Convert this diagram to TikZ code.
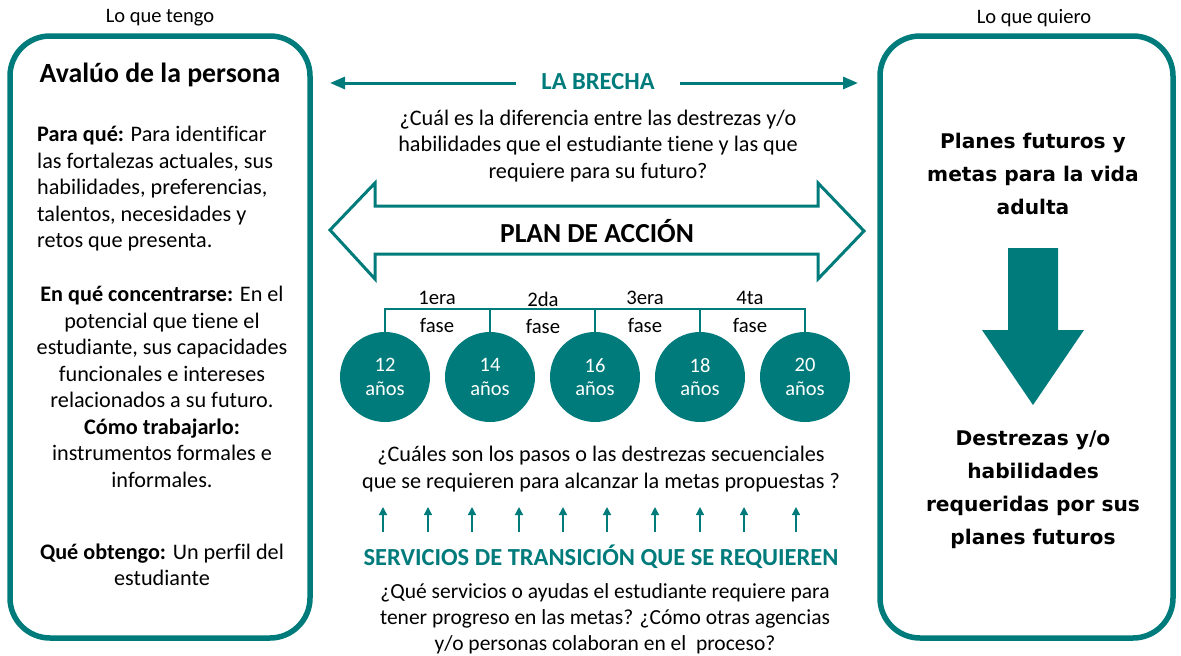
\documentclass[tikz,border=0pt]{standalone}
\usepackage{fontspec}
\setmainfont{Carlito}[Ligatures={NoCommon}]
\newfontfamily\verd{DejaVu Sans}
\usetikzlibrary{arrows.meta}
\definecolor{teal1}{RGB}{0,123,123}
\begin{document}
\begin{tikzpicture}[x=1pt,y=-1pt,
  box/.style={draw=teal1,line width=5.5pt,rounded corners=40pt,inner sep=0pt},
  body/.style={font=\fontsize{22.2}{26.5}\selectfont,align=center,inner sep=0pt},
  small/.style={font=\fontsize{20.5}{24}\selectfont,inner sep=0pt},
  verdtxt/.style={font=\verd\bfseries\fontsize{20.2}{33}\selectfont,align=center,inner sep=0pt},
  tealhead/.style={font=\bfseries\fontsize{24.5}{28}\selectfont,text=teal1},
  brechaarrow/.style={draw=teal1,line width=3pt,-{Triangle[length=15pt,width=12pt]}},
  upar/.style={draw=teal1,line width=1.3pt,-{Triangle[length=8pt,width=8pt]}},
  circ/.style={circle,fill=teal1,minimum size=90pt,inner sep=0pt,text=white,align=center,font=\fontsize{20.5}{23.5}\selectfont},
  bracket/.style={draw=teal1,line width=2pt},
  phase/.style={font=\fontsize{20.7}{24}\selectfont,inner sep=0pt}
]
\useasboundingbox (0,0) rectangle (1181,656);

% headers
\node[small] (tengo) at (160,18) {Lo que tengo};
\node[small] (quiero) at (1034,18) {Lo que quiero};

% left box
\node[box,minimum width=300pt,minimum height=602pt] (lbox) at (160,337) {};
\node[font=\bfseries\fontsize{27.8}{32}\selectfont,inner sep=0pt] (aval) at (160,75) {Avalúo de la persona};
\node[body,align=left,anchor=west] (p1) at (37,189) {\textbf{Para qué:} Para identificar\\las fortalezas actuales, sus\\habilidades, preferencias,\\talentos, necesidades y\\retos que presenta.};
\node[body] (p2) at (162,347) {\textbf{En qué concentrarse:} En el\\potencial que tiene el\\estudiante, sus capacidades\\funcionales e intereses\\relacionados a su futuro.};
\node[body] (p3) at (162,453) {\textbf{Cómo trabajarlo:}\\instrumentos formales e\\informales.};
\node[body] (p4) at (162,565) {\textbf{Qué obtengo:} Un perfil del\\estudiante};

% right box
\node[box,minimum width=293pt,minimum height=602pt] (rbox) at (1026.5,337) {};
\node[verdtxt] (planes) at (1033,174) {Planes futuros y\\metas para la vida\\adulta};
\node[verdtxt] (destr) at (1033,490) {Destrezas y/o\\habilidades\\requeridas por sus\\planes futuros};
\fill[teal1] (1008,248) -- (1058,248) -- (1058,330) -- (1084,330) -- (1033,405) -- (982,330) -- (1008,330) -- cycle;

% la brecha
\node[tealhead,inner xsep=25pt,inner ysep=0pt] (brecha) at (598,82) {LA BRECHA};
\coordinate (bl) at (330,83);
\coordinate (br) at (858,83);
\draw[brechaarrow] (brecha.west |- bl) -- (bl);
\draw[brechaarrow] (brecha.east |- br) -- (br);
\node[body] (q1) at (598,146) {¿Cuál es la diferencia entre las destrezas y/o\\habilidades que el estudiante tiene y las que\\requiere para su futuro?};

% plan de accion double arrow
\draw[draw=teal1,line width=3pt,miter limit=10] (330,230) -- (375,183) -- (375,206) -- (818,206) -- (818,183) -- (864,231) -- (818,279) -- (818,254) -- (375,254) -- (375,279) -- cycle;
\node[font=\bfseries\fontsize{27.5}{30}\selectfont,inner sep=0pt] (plan) at (597,231) {PLAN DE ACCIÓN};

% phases
\node[circ] (c1) at (385,377) {12\\años};
\node[circ] (c2) at (490,377) {14\\años};
\node[circ] (c3) at (595,377) {16\\años};
\node[circ] (c4) at (700,377) {18\\años};
\node[circ] (c5) at (805,377) {20\\años};
\coordinate (top) at (0,309);
\draw[bracket] (c1.north) -- (c1.north |- top) -- (c5.north |- top) -- (c5.north);
\draw[bracket] (c2.north) -- (c2.north |- top);
\draw[bracket] (c3.north) -- (c3.north |- top);
\draw[bracket] (c4.north) -- (c4.north |- top);
\node[phase] (f1a) at (437,298) {1era};
\node[phase] (f1b) at (437,325) {fase};
\node[phase] (f2a) at (543,299) {2da};
\node[phase] (f2b) at (543,326) {fase};
\node[phase] (f3a) at (645,298) {3era};
\node[phase] (f3b) at (645,325) {fase};
\node[phase] (f4a) at (750,298) {4ta};
\node[phase] (f4b) at (750,325) {fase};

% steps question
\node[body] (q2) at (601,469) {¿Cuáles son los pasos o las destrezas secuenciales\\que se requieren para alcanzar la metas propuestas ?};

% small arrows
\foreach \i/\x in {1/383,2/428,3/472,4/519,5/563,6/607,7/655,8/700,9/744,10/796} {
  \coordinate (s\i) at (\x,532);
  \coordinate (e\i) at (\x,507);
  \draw[upar] (s\i) -- (e\i);
}

% servicios
\node[tealhead,inner sep=0pt] (serv) at (601,557) {SERVICIOS DE TRANSICIÓN QUE SE REQUIEREN};
\node[body,font=\fontsize{21.5}{26}\selectfont] (q3) at (605,619) {¿Qué servicios o ayudas el estudiante requiere para\\tener progreso en las metas? ¿Cómo otras agencias\\y/o personas colaboran en el\ \ proceso?};
\end{tikzpicture}
\end{document}
